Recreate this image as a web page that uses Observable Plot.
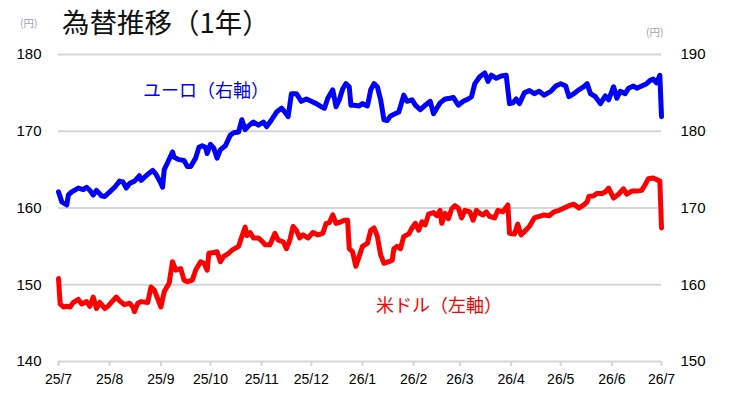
<!DOCTYPE html>
<html>
<head>
<meta charset="utf-8">
<script src="https://cdn.jsdelivr.net/npm/d3@7"></script>
<script src="https://cdn.jsdelivr.net/npm/@observablehq/plot@0.6"></script>
<style>
  html, body { margin: 0; padding: 0; background: #fff; }
  #wrap { position: relative; width: 733px; height: 401px; font-family: "Liberation Sans", "Noto Sans CJK JP", sans-serif; }
  .ov { position: absolute; white-space: nowrap; line-height: 1; }
  #title { left: 62px; top: 8px; font-size: 27.5px; color: #111; font-family: "Noto Sans CJK JP", sans-serif; }
  .unit { font-size: 10.5px; color: #9aa3b0; font-family: "Noto Sans CJK JP", sans-serif; }
  #unitL { left: 20px; top: 18px; }
  #unitR { left: 646px; top: 27px; }
  .lab { font-size: 18px; font-family: "Noto Sans CJK JP", sans-serif; }
  #labEur { left: 143px; top: 80px; color: #0000ff; }
  #labUsd { left: 376px; top: 295px; color: #ff0000; }
</style>
</head>
<body>
<div id="wrap">
  <div id="chart"></div>
  <div class="ov" id="title">為替推移（1年）</div>
  <div class="ov unit" id="unitL">(円)</div>
  <div class="ov unit" id="unitR">(円)</div>
  <div class="ov lab" id="labEur">ユーロ（右軸）</div>
  <div class="ov lab" id="labUsd">米ドル（左軸）</div>
</div>
<script>
const monthTicks = ["2025-07-01","2025-08-01","2025-09-01","2025-10-01","2025-11-01","2025-12-01","2026-01-01","2026-02-01","2026-03-01","2026-04-01","2026-05-01","2026-06-01","2026-07-01"];
const leftTicks = [140, 150, 160, 170, 180];
const rightOffset = 10; // right axis (EUR) = left axis + 10

const eurDates = ["2025-07-01","2025-07-03","2025-07-06","2025-07-07","2025-07-09","2025-07-13","2025-07-16","2025-07-18","2025-07-20","2025-07-22","2025-07-24","2025-07-27","2025-07-29",
"2025-08-01","2025-08-04","2025-08-07","2025-08-09","2025-08-11","2025-08-13","2025-08-16","2025-08-19","2025-08-20","2025-08-23","2025-08-27","2025-08-29",
"2025-09-01","2025-09-02","2025-09-03","2025-09-05","2025-09-08","2025-09-09","2025-09-12","2025-09-15","2025-09-17","2025-09-19","2025-09-22","2025-09-24","2025-09-26","2025-09-28","2025-09-29",
"2025-10-01","2025-10-03","2025-10-05","2025-10-07","2025-10-10","2025-10-13","2025-10-15","2025-10-18","2025-10-20","2025-10-22","2025-10-24","2025-10-27","2025-10-30",
"2025-11-02","2025-11-04","2025-11-07","2025-11-10","2025-11-13","2025-11-15","2025-11-17","2025-11-19","2025-11-22","2025-11-25","2025-11-28",
"2025-12-01","2025-12-04","2025-12-07","2025-12-09","2025-12-11","2025-12-14","2025-12-16","2025-12-18","2025-12-20","2025-12-22","2025-12-24","2025-12-25","2025-12-27","2025-12-30",
"2026-01-01","2026-01-04","2026-01-06","2026-01-08","2026-01-10","2026-01-12","2026-01-14","2026-01-16","2026-01-18","2026-01-21","2026-01-23","2026-01-26","2026-01-28","2026-01-31",
"2026-02-02","2026-02-05","2026-02-08","2026-02-11","2026-02-13","2026-02-15","2026-02-17","2026-02-20","2026-02-23","2026-02-25","2026-02-28",
"2026-03-03","2026-03-06","2026-03-08","2026-03-10","2026-03-13","2026-03-16","2026-03-18","2026-03-20","2026-03-23","2026-03-26","2026-03-29","2026-03-31",
"2026-04-02","2026-04-04","2026-04-06","2026-04-09","2026-04-12","2026-04-15","2026-04-18","2026-04-21","2026-04-25","2026-04-28",
"2026-05-01","2026-05-04","2026-05-06","2026-05-09","2026-05-12","2026-05-15","2026-05-17","2026-05-19","2026-05-22","2026-05-25","2026-05-28","2026-05-30",
"2026-06-02","2026-06-04","2026-06-06","2026-06-09","2026-06-11","2026-06-14","2026-06-16","2026-06-19","2026-06-22","2026-06-24","2026-06-26","2026-06-28","2026-06-30","2026-07-01"];
const eurValues = [172.1,170.8,170.4,171.7,172.1,172.6,172.4,172.7,172.3,171.7,172.3,171.6,171.5,
172.1,172.7,173.5,173.4,172.6,173.2,173.5,174.2,173.6,174.2,174.9,174.4,
173.2,172.7,175.0,175.9,177.3,176.6,176.3,176.2,175.4,175.4,176.5,177.9,178.1,177.9,177.1,
178.3,177.8,176.5,177.6,178.1,179.5,179.8,179.9,181.5,180.2,180.7,181.2,180.8,
181.2,180.6,181.5,182.5,183.0,182.5,181.9,184.9,184.9,183.9,184.2,
183.9,183.6,183.2,183.0,184.3,185.4,183.2,184.1,185.5,186.2,185.8,183.4,183.4,183.3,
183.6,183.3,185.4,186.2,185.8,184.1,181.5,181.4,182.0,182.3,182.5,184.7,183.9,184.1,
183.4,182.8,183.4,183.9,182.3,183.0,183.7,184.2,184.3,184.4,183.4,
183.9,184.2,184.5,186.2,187.1,187.6,186.5,187.3,186.9,187.2,187.3,183.6,
183.7,184.2,183.6,185.0,185.3,184.9,185.2,184.7,185.2,185.9,
186.2,185.9,184.5,184.9,185.4,185.8,186.2,184.9,184.5,183.6,184.6,184.1,
185.8,184.3,185.2,184.9,185.6,185.9,185.6,185.9,186.2,186.6,186.8,186.3,187.3,181.9];

const usdDates = ["2025-07-01","2025-07-02","2025-07-04","2025-07-06","2025-07-08","2025-07-10","2025-07-13","2025-07-15","2025-07-18","2025-07-20","2025-07-22","2025-07-24","2025-07-26","2025-07-29","2025-07-31",
"2025-08-02","2025-08-05","2025-08-07","2025-08-10","2025-08-13","2025-08-15","2025-08-16","2025-08-18","2025-08-20","2025-08-24","2025-08-26","2025-08-28","2025-08-30",
"2025-09-01","2025-09-03","2025-09-04","2025-09-06","2025-09-08","2025-09-10","2025-09-13","2025-09-15","2025-09-17","2025-09-20","2025-09-22","2025-09-25","2025-09-27","2025-09-29","2025-09-30",
"2025-10-03","2025-10-05","2025-10-07","2025-10-09","2025-10-12","2025-10-14","2025-10-18","2025-10-20","2025-10-22","2025-10-23","2025-10-25","2025-10-27","2025-10-30",
"2025-11-02","2025-11-03","2025-11-06","2025-11-09","2025-11-11","2025-11-14","2025-11-16","2025-11-18","2025-11-20","2025-11-22","2025-11-24","2025-11-26","2025-11-29",
"2025-12-02","2025-12-05","2025-12-08","2025-12-10","2025-12-12","2025-12-14","2025-12-16","2025-12-19","2025-12-21","2025-12-23","2025-12-24","2025-12-26","2025-12-28","2025-12-30",
"2026-01-01","2026-01-04","2026-01-06","2026-01-08","2026-01-10","2026-01-12","2026-01-14","2026-01-17","2026-01-19","2026-01-20","2026-01-22","2026-01-24","2026-01-26","2026-01-29","2026-01-31",
"2026-02-02","2026-02-04","2026-02-06","2026-02-08","2026-02-10","2026-02-13","2026-02-15","2026-02-17","2026-02-18","2026-02-20","2026-02-22","2026-02-24","2026-02-26","2026-02-28",
"2026-03-02","2026-03-04","2026-03-07","2026-03-09","2026-03-11","2026-03-13","2026-03-15","2026-03-17","2026-03-19","2026-03-22","2026-03-24","2026-03-27","2026-03-30","2026-03-31",
"2026-04-03","2026-04-05","2026-04-07","2026-04-09","2026-04-12","2026-04-15","2026-04-18","2026-04-21","2026-04-24","2026-04-27","2026-04-30",
"2026-05-03","2026-05-06","2026-05-09","2026-05-12","2026-05-15","2026-05-17","2026-05-18","2026-05-21","2026-05-23","2026-05-26","2026-05-28","2026-05-30",
"2026-06-02","2026-06-05","2026-06-08","2026-06-10","2026-06-13","2026-06-16","2026-06-19","2026-06-21","2026-06-23","2026-06-26","2026-06-29","2026-06-30","2026-07-01"];
const usdValues = [150.8,147.5,147.1,147.2,147.1,147.7,148.1,147.5,147.8,147.2,148.4,146.9,147.7,146.9,147.2,
147.7,148.4,147.9,147.4,147.6,147.1,146.5,147.6,147.8,147.7,149.7,149.3,148.2,
147.1,149.1,149.5,150.2,153.0,151.9,152.1,150.6,150.4,150.6,151.9,153.0,152.8,151.9,154.1,
154.2,154.3,153.0,153.7,154.1,154.5,155.0,156.3,157.5,156.4,156.8,156.1,156.1,
155.5,155.2,155.2,156.7,155.8,155.6,154.7,155.8,157.6,157.1,156.1,156.5,156.1,
156.8,156.5,156.7,158.0,158.1,159.1,158.0,158.2,158.4,158.4,154.7,154.3,152.4,153.7,
155.0,155.4,157.1,157.4,156.3,153.9,152.8,153.0,153.2,154.7,155.0,154.7,156.3,156.6,157.4,
158.0,157.1,158.2,157.8,159.2,159.4,159.0,159.7,158.0,159.3,158.6,159.9,160.3,160.0,
158.7,159.7,159.5,158.4,159.7,159.3,159.1,159.5,158.9,158.7,159.7,159.5,160.4,156.7,
156.6,157.9,156.5,156.9,157.6,158.7,158.9,159.1,159.0,159.5,159.7,
160.0,160.3,160.5,160.0,160.4,160.8,161.5,161.6,161.9,161.9,162.1,162.6,
161.3,161.8,162.5,161.8,162.2,162.2,162.3,163.0,163.8,163.9,163.6,163.5,157.4];

const eur = eurDates.map((d, i) => ({date: new Date(d), value: eurValues[i]}));
const usd = usdDates.map((d, i) => ({date: new Date(d), value: usdValues[i]}));
const fmt = d3.utcFormat("%y/%-m");

const chart = Plot.plot({
  width: 733,
  height: 401,
  marginLeft: 58,
  marginRight: 72,
  marginTop: 54,
  marginBottom: 40,
  style: {fontFamily: "'Liberation Sans', Arial, sans-serif", color: "#000", background: "#fff"},
  x: {type: "utc", domain: [new Date(monthTicks[0]), new Date(monthTicks[monthTicks.length - 1])]},
  y: {domain: [140, 180]},
  marks: [
    Plot.gridY(leftTicks, {stroke: "#d6d6d6", strokeOpacity: 1, strokeWidth: 2}),
    Plot.axisX(monthTicks.map(d => new Date(d)), {tickFormat: fmt, tickSize: 5, tickPadding: 8, stroke: "#d6d6d6", strokeWidth: 2, fill: "#000", fontSize: 14, label: null}),
    Plot.axisY(leftTicks, {anchor: "left", tickSize: 0, tickPadding: 17, fontSize: 15, label: null}),
    Plot.axisY(leftTicks, {anchor: "right", tickSize: 0, tickPadding: 19, fontSize: 15, label: null, tickFormat: d => d + rightOffset}),
    Plot.lineY(usd, {x: "date", y: "value", stroke: "#ff0000", strokeWidth: 5, strokeLinejoin: "round", strokeLinecap: "round"}),
    Plot.lineY(eur, {x: "date", y: d => d.value - rightOffset, stroke: "#0000ff", strokeWidth: 5, strokeLinejoin: "round", strokeLinecap: "round"})
  ]
});
document.getElementById("chart").appendChild(chart);
</script>
</body>
</html>
